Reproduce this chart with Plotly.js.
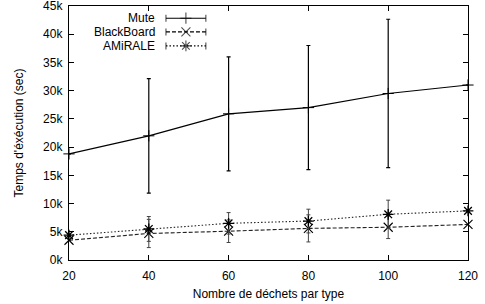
<!DOCTYPE html>
<html><head><meta charset="utf-8">
<script src="https://cdn.plot.ly/plotly-3.0.1.min.js"></script>
<style>html,body{margin:0;padding:0;background:#fff}#c{width:485px;height:304px}</style>
</head><body><div id="c"></div>
<script>
const xValues = [20, 40, 60, 80, 100, 120];
const muteY = [18800, 22000, 25900, 27000, 29500, 31000];
const muteErr = [0, 10150, 10100, 11000, 13150, 0];
const blackboardY = [3500, 4700, 5100, 5600, 5800, 6300];
const blackboardErr = [0, 2500, 2000, 2400, 2000, 0];
const amiraleY = [4400, 5500, 6500, 6900, 8100, 8700];
const amiraleErr = [0, 2200, 1900, 2100, 2500, 0];
const yTickVals = [0, 5000, 10000, 15000, 20000, 25000, 30000, 35000, 40000, 45000];
const yTickText = ['0k','5k','10k','15k','20k','25k','30k','35k','40k','45k'];
const seriesNames = ['Mute', 'BlackBoard', 'AMiRALE'];

const F = 'Liberation Sans, Arial, Helvetica, sans-serif';
const traces = [
  {x: xValues, y: muteY, name: seriesNames[0], mode: 'lines+markers', cliponaxis: false,
   line: {color: '#000', width: 1.2},
   marker: {symbol: 'cross-thin-open', size: 8, color: '#000', line: {width: 1, color: '#000'}},
   error_y: {type: 'data', array: muteErr, visible: true, color: '#000', thickness: 1.2, width: 2}},
  {x: xValues, y: blackboardY, name: seriesNames[1], mode: 'lines+markers', cliponaxis: false,
   line: {color: '#222', width: 1.1, dash: '4px,2px'},
   marker: {symbol: 'x-thin-open', size: 9, color: '#000', line: {width: 1.1, color: '#000'}},
   error_y: {type: 'data', array: blackboardErr, visible: true, color: '#444', thickness: 1, width: 2}},
  {x: xValues, y: amiraleY, name: seriesNames[2], mode: 'lines+markers', cliponaxis: false,
   line: {color: '#222', width: 1.1, dash: '1.5px,2px'},
   marker: {symbol: 'asterisk-open', size: 9, color: '#000', line: {width: 1.3, color: '#000'}},
   error_y: {type: 'data', array: amiraleErr, visible: true, color: '#444', thickness: 1, width: 2}}
];

// legend key samples on an overlay axis (0..1 within plot area)
const keyX = [0.243, 0.293, 0.343];
const keyRows = [0.952, 0.898, 0.843];
const keyStyles = [
  {dash: 'solid', sym: 'cross-thin-open', size: 8},
  {dash: '4px,2px', sym: 'x-thin-open', size: 9},
  {dash: '1.5px,2px', sym: 'asterisk-open', size: 9}
];
keyStyles.forEach((s, i) => {
  traces.push({x: keyX, y: [keyRows[i], keyRows[i], keyRows[i]], xaxis: 'x2', yaxis: 'y2',
    mode: 'lines+markers', showlegend: false, hoverinfo: 'skip', cliponaxis: false,
    line: {color: '#000', width: 1.1, dash: s.dash},
    marker: {symbol: ['line-ns-open', s.sym, 'line-ns-open'], size: [5, s.size, 5],
             color: '#000', line: {width: 1.1, color: '#000'}}});
});
const annotations = seriesNames.map((n, i) => ({
  text: n, xref: 'x2', yref: 'y2', x: 0.2206, y: keyRows[i], xanchor: 'right', yanchor: 'middle',
  showarrow: false, font: {family: F, size: 12, color: '#000'}
}));

const layout = {
  width: 485, height: 304,
  margin: {l: 69, r: 17, t: 6, b: 44},
  paper_bgcolor: '#fff', plot_bgcolor: '#fff',
  showlegend: false,
  font: {family: F, size: 12, color: '#000'},
  xaxis: {range: [20, 120], tickvals: xValues, ticks: 'inside', ticklen: 5, tickwidth: 1, tickcolor: '#000',
          showline: true, mirror: 'allticks', linecolor: '#000', linewidth: 1.2, showgrid: false, zeroline: false,
          tickfont: {family: F, size: 12}, ticklabelstandoff: 4,
          title: {text: 'Nombre de déchets par type', font: {family: F, size: 12}, standoff: 8}},
  yaxis: {range: [0, 45000.5], tickvals: yTickVals, ticktext: yTickText, ticks: 'inside', ticklen: 5, tickwidth: 1, tickcolor: '#000',
          showline: true, mirror: 'allticks', linecolor: '#000', linewidth: 1.2, showgrid: false, zeroline: false,
          tickfont: {family: F, size: 12}, ticklabelstandoff: 3, ticklabeloverflow: 'allow',
          title: {text: "Temps d'éxécution (sec)", font: {family: F, size: 12}, standoff: 16}},
  xaxis2: {overlaying: 'x', range: [0, 1], visible: false, fixedrange: true},
  yaxis2: {overlaying: 'y', range: [0, 1], visible: false, fixedrange: true},
  annotations: annotations
};
Plotly.newPlot('c', traces, layout, {displayModeBar: false, staticPlot: true});
</script></body></html>
